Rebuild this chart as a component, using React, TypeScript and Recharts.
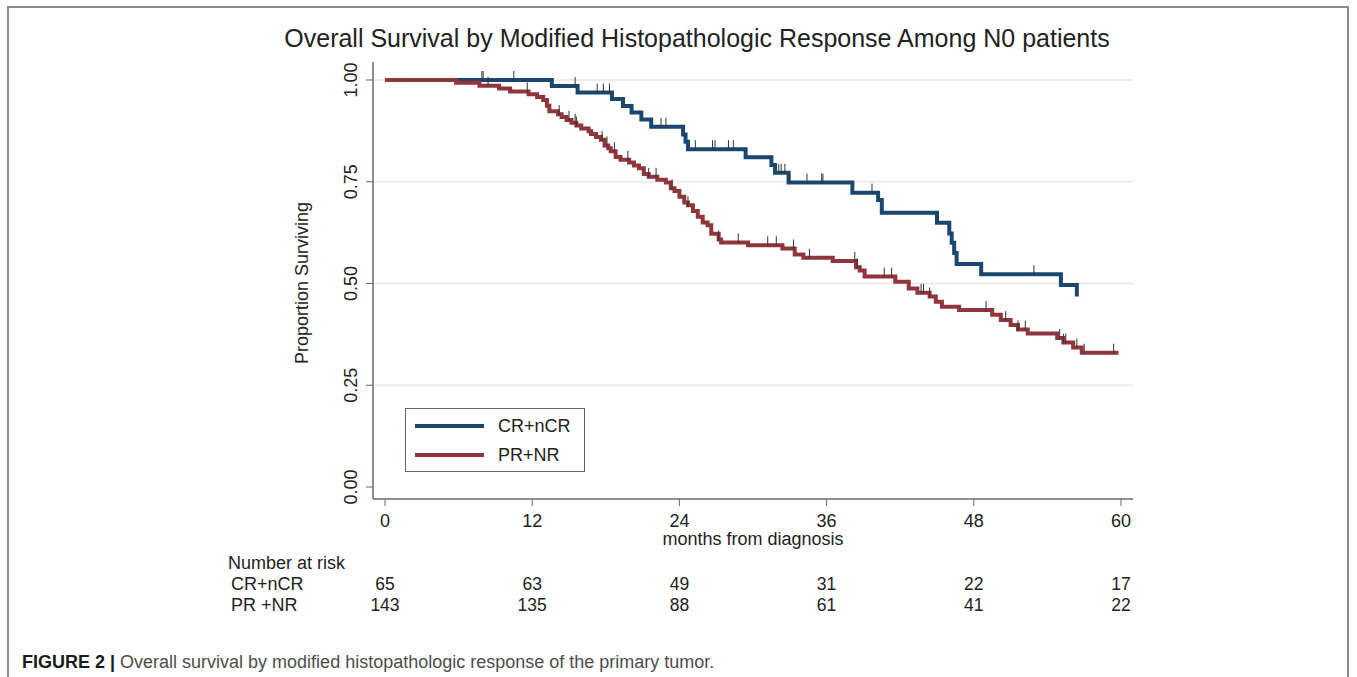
import React from 'react';
import { ComposedChart, Line, XAxis, YAxis, CartesianGrid, Legend } from 'recharts';

// axis ticks
const monthTicks = [0, 12, 24, 36, 48, 60];
const survivalTicks = [0, 0.25, 0.5, 0.75, 1];

// number at risk table
const riskGroups = ['CR+nCR', 'PR +NR'];
const riskCR = [65, 63, 49, 31, 22, 17];
const riskPR = [143, 135, 88, 61, 41, 22];

// CR+nCR Kaplan-Meier steps (months, proportion surviving)
const crTimes = [0, 13.6, 15.7, 18.5, 19.4, 20.1, 20.9, 21.7, 24.3, 24.5, 24.7, 29.4, 31.5, 31.8, 32.9, 38.1, 40.2, 40.5, 45.0, 46.0, 46.2, 46.4, 46.6, 48.6, 55.1, 56.4];
const crSurv = [1.0, 0.985, 0.969, 0.953, 0.936, 0.92, 0.903, 0.885, 0.866, 0.848, 0.83, 0.81, 0.791, 0.772, 0.748, 0.723, 0.705, 0.674, 0.649, 0.623, 0.6, 0.575, 0.548, 0.523, 0.496, 0.468];
const crCensor = [7.9, 8.0, 10.5, 15.5, 17.3, 17.8, 18.3, 22.5, 22.9, 25.3, 26.7, 26.9, 28.0, 28.4, 32.1, 32.3, 32.6, 33.0, 34.4, 35.6, 35.7, 39.7, 52.9];

// PR+NR Kaplan-Meier steps
const prTimes = [0, 5.8, 7.7, 9.3, 10.2, 11.7, 12.4, 12.9, 13.2, 13.4, 14.1, 14.4, 14.8, 15.2, 15.6, 16.0, 16.6, 16.8, 17.2, 17.6, 17.9, 18.2, 18.4, 18.8, 19.2, 19.9, 20.3, 20.7, 21.1, 21.5, 22.2, 22.9, 23.3, 23.6, 24.0, 24.4, 24.7, 25.1, 25.5, 25.9, 26.3, 26.6, 27.2, 27.4, 29.6, 32.4, 33.4, 34.1, 36.5, 38.4, 38.7, 39.1, 41.6, 42.7, 43.4, 44.4, 44.9, 45.4, 46.8, 49.5, 50.2, 51.0, 51.6, 52.4, 54.8, 55.3, 56.1, 56.8, 59.8];
const prSurv = [1.0, 0.993, 0.986, 0.979, 0.972, 0.965, 0.958, 0.951, 0.937, 0.923, 0.916, 0.909, 0.902, 0.895, 0.888, 0.881, 0.874, 0.867, 0.86, 0.853, 0.839, 0.832, 0.825, 0.811, 0.804, 0.797, 0.79, 0.783, 0.769, 0.762, 0.755, 0.748, 0.734, 0.727, 0.713, 0.699, 0.692, 0.678, 0.664, 0.65, 0.643, 0.622, 0.608, 0.601, 0.594, 0.586, 0.571, 0.563, 0.555, 0.54, 0.532, 0.517, 0.504, 0.488, 0.477, 0.468, 0.455, 0.443, 0.435, 0.423, 0.41, 0.398, 0.387, 0.377, 0.366, 0.355, 0.343, 0.33, 0.33];
const prCensor = [8.4, 11.6, 14.2, 15.0, 15.5, 15.6, 17.7, 18.1, 18.7, 19.8, 21.5, 22.1, 23.4, 24.7, 27.2, 28.8, 31.2, 31.9, 33.3, 34.6, 38.3, 38.5, 40.7, 41.3, 43.7, 43.9, 44.4, 49.0, 50.6, 51.6, 52.2, 55.0, 55.3, 55.5, 56.4, 57.0, 59.4];

const NAVY = '#1a476f';
const MAROON = '#90353b';
const FONT = '"Liberation Sans", Arial, Helvetica, sans-serif';
const TEXT = '#222';
const AXIS = '#6a6a6a';

const toPoints = (times: number[], surv: number[]) => times.map((t, i) => ({ t, s: surv[i] }));

// survival value of the curve at a censoring time
const survAt = (times: number[], surv: number[], t: number) => {
  let s = surv[0];
  times.forEach((tt, i) => {
    if (tt <= t) s = surv[i];
  });
  return s;
};

const crData = toPoints(crTimes, crSurv);
const prData = toPoints(prTimes, prSurv);
const crCensorData = crCensor.map((t) => ({ t, s: survAt(crTimes, crSurv, t) }));
const prCensorData = prCensor.map((t) => ({ t, s: survAt(prTimes, prSurv, t) }));

const CensorMark = (props: any) => {
  const { cx, cy } = props;
  if (cx == null || cy == null) return null;
  return <line x1={cx} x2={cx} y1={cy - 9} y2={cy + 1} stroke="#333" strokeWidth={1} />;
};

const MonthTick = (props: any) => {
  const { x, payload } = props;
  const idx = monthTicks.indexOf(payload.value);
  return (
    <g fontFamily={FONT} fill={TEXT}>
      <text x={x} y={521} textAnchor="middle" dominantBaseline="central" fontSize={18}>
        {payload.value}
      </text>
      <text x={x} y={584} textAnchor="middle" dominantBaseline="central" fontSize={17.5}>
        {riskCR[idx]}
      </text>
      <text x={x} y={605} textAnchor="middle" dominantBaseline="central" fontSize={17.5}>
        {riskPR[idx]}
      </text>
    </g>
  );
};

const SurvTick = (props: any) => {
  const { y, payload } = props;
  const cx = 351;
  return (
    <text
      x={cx}
      y={y}
      transform={`rotate(-90, ${cx}, ${y})`}
      textAnchor="middle"
      dominantBaseline="central"
      fontSize={18}
      fontFamily={FONT}
      fill={TEXT}
    >
      {payload.value.toFixed(2)}
    </text>
  );
};

const LegendBox = ({ payload }: any) => {
  const items = (payload || []).filter((p: any) => p.type !== 'none');
  return (
    <div
      style={{
        position: 'relative',
        width: 178,
        height: 62,
        border: '1px solid #666',
        background: '#fff',
        fontFamily: FONT,
        fontSize: 18,
        color: TEXT,
      }}
    >
      {items.map((item: any, i: number) => (
        <div
          key={item.value}
          style={{ position: 'absolute', left: 9, top: i === 0 ? 8 : 37, height: 18, display: 'flex', alignItems: 'center' }}
        >
          <span style={{ display: 'inline-block', width: 69, height: 4, background: item.color }} />
          <span style={{ marginLeft: 14 }}>{item.value}</span>
        </div>
      ))}
    </div>
  );
};

const App: React.FC = () => {
  return (
    <div style={{ position: 'absolute', left: 0, top: 0, width: 1357, height: 677, background: '#fff', overflow: 'hidden' }}>
      <ComposedChart
        width={1357}
        height={677}
        margin={{ top: 62, right: 224, bottom: 148, left: 333 }}
      >
        <CartesianGrid vertical={false} horizontalValues={[0.25, 0.5, 0.75, 1]} stroke="#ececec" strokeWidth={2} />
        <XAxis
          dataKey="t"
          type="number"
          domain={[-0.978, 60.978]}
          ticks={monthTicks}
          allowDataOverflow
          height={30}
          axisLine={{ stroke: AXIS, strokeWidth: 1.5 }}
          tickLine={{ stroke: AXIS }}
          tickSize={7}
          tick={<MonthTick />}
        />
        <YAxis
          type="number"
          domain={[-0.0295, 1.0442]}
          ticks={survivalTicks}
          allowDataOverflow
          width={40}
          axisLine={{ stroke: AXIS, strokeWidth: 1.5 }}
          tickLine={{ stroke: AXIS }}
          tickSize={7}
          tick={<SurvTick />}
        />
        <Legend
          layout="vertical"
          align="center"
          verticalAlign="middle"
          content={<LegendBox />}
          wrapperStyle={{ position: 'absolute', left: 405, top: 408, width: 180, height: 64 }}
        />
        <Line
          data={crData}
          dataKey="s"
          name="CR+nCR"
          type="stepAfter"
          stroke={NAVY}
          strokeWidth={4}
          dot={false}
          activeDot={false}
          isAnimationActive={false}
        />
        <Line
          data={prData}
          dataKey="s"
          name="PR+NR"
          type="stepAfter"
          stroke={MAROON}
          strokeWidth={4}
          dot={false}
          activeDot={false}
          isAnimationActive={false}
        />
        <Line
          data={crCensorData}
          dataKey="s"
          name="cr-censored"
          stroke="none"
          legendType="none"
          dot={<CensorMark />}
          activeDot={false}
          isAnimationActive={false}
        />
        <Line
          data={prCensorData}
          dataKey="s"
          name="pr-censored"
          stroke="none"
          legendType="none"
          dot={<CensorMark />}
          activeDot={false}
          isAnimationActive={false}
        />
      </ComposedChart>

      {/* titles, risk table labels, caption and frame */}
      <svg
        width={1357}
        height={677}
        style={{ position: 'absolute', left: 0, top: 0, pointerEvents: 'none' }}
        fontFamily={FONT}
      >
        <rect x={8} y={7} width={1340} height={700} fill="none" stroke="#8c8c8c" strokeWidth={2} />
        <text x={697} y={38} textAnchor="middle" dominantBaseline="central" fontSize={25} fill={TEXT}>
          Overall Survival by Modified Histopathologic Response Among N0 patients
        </text>
        <text
          x={302}
          y={283}
          transform="rotate(-90, 302, 283)"
          textAnchor="middle"
          dominantBaseline="central"
          fontSize={18}
          fill={TEXT}
        >
          Proportion Surviving
        </text>
        <text x={753} y={539} textAnchor="middle" dominantBaseline="central" fontSize={18} fill={TEXT}>
          months from diagnosis
        </text>
        <text x={228} y={563} dominantBaseline="central" fontSize={18} fill={TEXT}>
          Number at risk
        </text>
        {riskGroups.map((g, i) => (
          <text key={g} x={231} y={i === 0 ? 584 : 605} dominantBaseline="central" fontSize={18} fill={TEXT}>
            {g}
          </text>
        ))}
        <text x={22} y={662} dominantBaseline="central" fontSize={18}>
          <tspan fontWeight="bold" fill="#1a1a1a">FIGURE 2 | </tspan>
          <tspan fill="#4d4d4d">Overall survival by modified histopathologic response of the primary tumor.</tspan>
        </text>
      </svg>
    </div>
  );
};

export default App;
